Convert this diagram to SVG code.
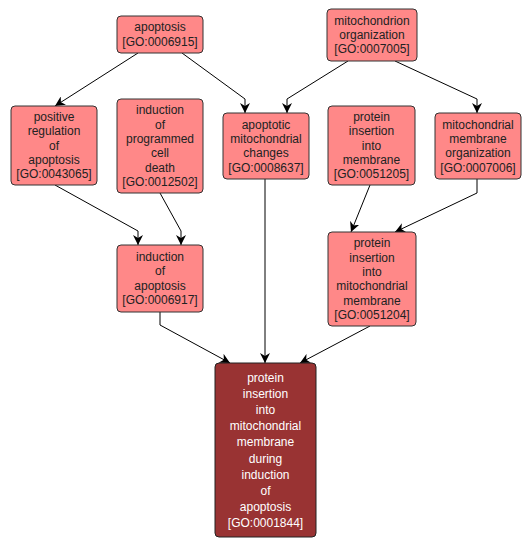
<svg xmlns="http://www.w3.org/2000/svg" width="531" height="549" viewBox="0 0 531 549">
<defs>
<style>
.n rect{fill:#ff8888;stroke:#333;stroke-width:1}
.n text{font-family:"Liberation Sans",Arial,sans-serif;font-size:12px;fill:#222;text-anchor:middle}
.f rect{fill:#993333;stroke:#222;stroke-width:1}
.f text{font-family:"Liberation Sans",Arial,sans-serif;font-size:12px;fill:#fff;text-anchor:middle}
.e path{fill:none;stroke:#000;stroke-width:1;marker-end:url(#a)}
</style>
<marker id="a" markerWidth="10" markerHeight="10" refX="10" refY="5" orient="auto" markerUnits="userSpaceOnUse" viewBox="0 0 10 10">
<path d="M0,0 L10,5 L0,10 L3,5 z" fill="#000"/>
</marker>
</defs>
<rect width="531" height="549" fill="#fff"/>
<g id="edges" class="e">
<path d="M138,53 L55,106"/>
<path d="M182,53 L245,99 L245,113"/>
<path d="M348,61 L287,99 L287,113"/>
<path d="M395,61 L477,99 L477,113"/>
<path d="M55,185 L138,231 L138,245"/>
<path d="M160,193 L181,231 L181,245"/>
<path d="M370,185 L351,232"/>
<path d="M477,179 L477,193 L395,232"/>
<path d="M160,312 L160,325 L230,363"/>
<path d="M265,179 L265,363"/>
<path d="M370,326 L300,363"/>
</g>
<g id="n0006915" class="n"><rect x="117" y="16" width="86" height="37" rx="4"/>
<text x="160" y="31.4">apoptosis</text><text x="160" y="45.7">[GO:0006915]</text></g>
<g id="n0007005" class="n"><rect x="327" y="9" width="90" height="52" rx="4"/>
<text x="372" y="24.7">mitochondrion</text><text x="372" y="39">organization</text><text x="372" y="53.3">[GO:0007005]</text></g>
<g id="n0043065" class="n"><rect x="11" y="106" width="86" height="79" rx="4"/>
<text x="54" y="121">positive</text><text x="54" y="135.3">regulation</text><text x="54" y="149.6">of</text><text x="54" y="163.9">apoptosis</text><text x="54" y="178.2">[GO:0043065]</text></g>
<g id="n0012502" class="n"><rect x="117" y="99" width="86" height="94" rx="4"/>
<text x="160" y="114.3">induction</text><text x="160" y="128.6">of</text><text x="160" y="142.9">programmed</text><text x="160" y="157.2">cell</text><text x="160" y="171.5">death</text><text x="160" y="185.8">[GO:0012502]</text></g>
<g id="n0008637" class="n"><rect x="223" y="113" width="86" height="66" rx="4"/>
<text x="266" y="128.6">apoptotic</text><text x="266" y="142.9">mitochondrial</text><text x="266" y="157.2">changes</text><text x="266" y="171.5">[GO:0008637]</text></g>
<g id="n0051205" class="n"><rect x="328" y="106" width="87" height="79" rx="4"/>
<text x="371.5" y="121">protein</text><text x="371.5" y="135.3">insertion</text><text x="371.5" y="149.6">into</text><text x="371.5" y="163.9">membrane</text><text x="371.5" y="178.2">[GO:0051205]</text></g>
<g id="n0007006" class="n"><rect x="435" y="113" width="86" height="66" rx="4"/>
<text x="478" y="128.6">mitochondrial</text><text x="478" y="142.9">membrane</text><text x="478" y="157.2">organization</text><text x="478" y="171.5">[GO:0007006]</text></g>
<g id="n0006917" class="n"><rect x="117" y="245" width="86" height="67" rx="4"/>
<text x="160" y="261.1">induction</text><text x="160" y="275.4">of</text><text x="160" y="289.7">apoptosis</text><text x="160" y="304">[GO:0006917]</text></g>
<g id="n0051204" class="n"><rect x="328" y="232" width="88" height="94" rx="4"/>
<text x="372" y="247.3">protein</text><text x="372" y="261.6">insertion</text><text x="372" y="275.9">into</text><text x="372" y="290.2">mitochondrial</text><text x="372" y="304.5">membrane</text><text x="372" y="318.8">[GO:0051204]</text></g>
<g id="n0001844" class="f"><rect x="215" y="363" width="101" height="174" rx="4"/>
<text x="265.5" y="381.5">protein</text><text x="265.5" y="397.7">insertion</text><text x="265.5" y="413.9">into</text><text x="265.5" y="430.1">mitochondrial</text><text x="265.5" y="446.3">membrane</text><text x="265.5" y="462.5">during</text><text x="265.5" y="478.7">induction</text><text x="265.5" y="494.9">of</text><text x="265.5" y="511.1">apoptosis</text><text x="265.5" y="527.3">[GO:0001844]</text></g>
</svg>
